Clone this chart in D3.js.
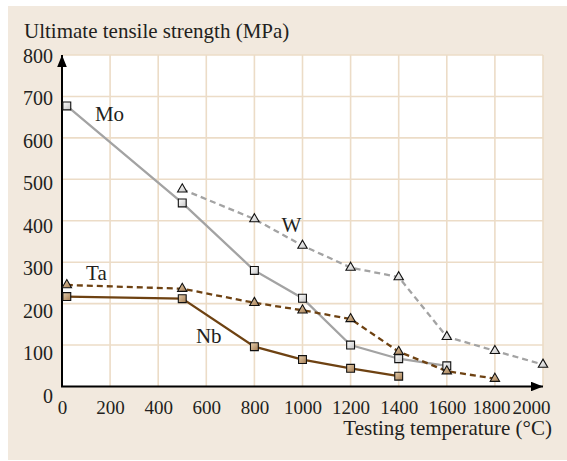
<!DOCTYPE html>
<html>
<head>
<meta charset="utf-8">
<script src="https://cdn.jsdelivr.net/npm/d3@7"></script>
<style>
  body { margin: 0; background: #fff; }
  text { font-family: "Liberation Serif", "Times New Roman", serif; fill: #231f20; }
</style>
</head>
<body>
<div id="chart"></div>
<script>
// values
const xTicks = [0, 200, 400, 600, 800, 1000, 1200, 1400, 1600, 1800, 2000];
const yTicks = [0, 100, 200, 300, 400, 500, 600, 700, 800];

const moTemp = [20, 500, 800, 1000, 1200, 1400, 1600];
const moUts = [677, 443, 280, 213, 100, 67, 50];
const wTemp = [500, 800, 1000, 1200, 1400, 1600, 1800, 2000];
const wUts = [476, 404, 340, 287, 264, 120, 86, 53];
const taTemp = [20, 500, 800, 1000, 1200, 1400, 1600, 1800];
const taUts = [245, 236, 202, 184, 163, 84, 37, 19];
const nbTemp = [20, 500, 800, 1000, 1200, 1400];
const nbUts = [217, 212, 96, 65, 44, 25];

const labelNames = ["Mo", "W", "Ta", "Nb"];
const labelTemp = [137, 913, 100, 557];
const labelUts = [640, 374, 258, 106];

const width = 567, height = 461;

let svg = d3.select("#chart").append("svg")
  .attr("width", width)
  .attr("height", height);

let defs = svg.append("defs");
let gGray = defs.append("linearGradient").attr("id", "gGray")
  .attr("x1", 0).attr("y1", 0).attr("x2", 1).attr("y2", 1);
gGray.append("stop").attr("offset", "0%").attr("stop-color", "#ffffff");
gGray.append("stop").attr("offset", "100%").attr("stop-color", "#c4c4c4");
let gTan = defs.append("linearGradient").attr("id", "gTan")
  .attr("x1", 0).attr("y1", 0).attr("x2", 1).attr("y2", 1);
gTan.append("stop").attr("offset", "0%").attr("stop-color", "#e6cfae");
gTan.append("stop").attr("offset", "100%").attr("stop-color", "#a47c52");

defs.append("marker").attr("id", "arrow")
  .attr("viewBox", "0 0 10 8").attr("refX", 10).attr("refY", 4)
  .attr("markerWidth", 12).attr("markerHeight", 9.6)
  .attr("markerUnits", "userSpaceOnUse")
  .attr("orient", "auto")
  .append("path").attr("d", "M0,0L10,4L0,8Z").attr("fill", "#000");

// panel
svg.append("rect").attr("x", 8).attr("y", 6).attr("width", 559).attr("height", 454)
  .attr("fill", "#f2e9de");

let x = d3.scaleLinear().domain([0, 2000]).range([62, 543]);
let y = d3.scaleLinear().domain([0, 800]).range([386.5, 55]);
// tick labels in the reference sit slightly lower than their grid lines
let yLab = d3.scaleLinear().domain([0, 800]).range([396, 56]);

svg.append("rect")
  .attr("x", x(0)).attr("y", y(800))
  .attr("width", x(2000) - x(0)).attr("height", y(0) - y(800))
  .attr("fill", "#fff");

// grid
let grid = svg.append("g").attr("stroke", "#ecdcc7").attr("stroke-width", 1.6);
grid.selectAll(".vx").data(xTicks.slice(1)).enter().append("line")
  .attr("x1", d => x(d)).attr("x2", d => x(d))
  .attr("y1", y(800)).attr("y2", y(0));
grid.selectAll(".hy").data(yTicks.slice(1)).enter().append("line")
  .attr("x1", x(0)).attr("x2", x(2000))
  .attr("y1", d => y(d)).attr("y2", d => y(d));

// axes (labels only, lines drawn with arrows below)
let xAxis = d3.axisBottom(x).tickValues(xTicks).tickSize(0).tickFormat(d3.format("d"));
let gx = svg.append("g").attr("transform", `translate(0, ${y(0)})`).call(xAxis);
gx.select(".domain").remove();
gx.selectAll("text")
  .attr("dy", null).attr("y", 27)
  .attr("dx", d => d === 2000 ? -12 : d === 1800 ? -4 : 0)
  .style("font-size", "19px").style("font-family", "'Liberation Serif', serif")
  .attr("fill", "#231f20");

let yAxis = d3.axisLeft(y).tickValues(yTicks).tickSize(0).tickPadding(9).tickFormat(d3.format("d"));
let gy = svg.append("g").attr("transform", `translate(${x(0)}, 0)`).call(yAxis);
gy.select(".domain").remove();
gy.selectAll("text")
  .attr("y", d => yLab(d) - y(d))
  .style("font-size", "20px").style("font-family", "'Liberation Serif', serif")
  .attr("fill", "#231f20");

svg.append("line")
  .attr("x1", x(0)).attr("y1", y(0)).attr("x2", x(0)).attr("y2", y(800))
  .attr("stroke", "#000").attr("stroke-width", 2)
  .attr("marker-end", "url(#arrow)");
svg.append("line")
  .attr("x1", x(0) - 1).attr("y1", y(0)).attr("x2", x(2000)).attr("y2", y(0))
  .attr("stroke", "#000").attr("stroke-width", 2)
  .attr("marker-end", "url(#arrow)");

// series
let series = [
  { t: moTemp, v: moUts, color: "#a3a3a3", dash: null, sym: d3.symbolSquare, fill: "url(#gGray)" },
  { t: wTemp, v: wUts, color: "#a3a3a3", dash: "6,4", sym: d3.symbolTriangle, fill: "url(#gGray)" },
  { t: taTemp, v: taUts, color: "#6e4212", dash: "6,4", sym: d3.symbolTriangle, fill: "url(#gTan)" },
  { t: nbTemp, v: nbUts, color: "#6e4212", dash: null, sym: d3.symbolSquare, fill: "url(#gTan)" }
];

let line = d3.line().x(d => x(d[0])).y(d => y(d[1]));

series.forEach(s => {
  let pts = s.t.map((t, i) => [t, s.v[i]]);
  svg.append("path")
    .attr("d", line(pts))
    .attr("fill", "none")
    .attr("stroke", s.color)
    .attr("stroke-width", 2.3)
    .attr("stroke-dasharray", s.dash);
});

series.forEach(s => {
  let pts = s.t.map((t, i) => [t, s.v[i]]);
  let size = s.sym === d3.symbolSquare ? 62 : 38;
  svg.selectAll(null).data(pts).enter().append("path")
    .attr("d", d3.symbol().type(s.sym).size(size))
    .attr("transform", d => `translate(${x(d[0])}, ${y(d[1])})`)
    .attr("fill", s.fill)
    .attr("stroke", "#111")
    .attr("stroke-width", 1.1);
});

// series names
svg.selectAll(".lab").data(labelNames).enter().append("text")
  .attr("x", (d, i) => x(labelTemp[i]))
  .attr("y", (d, i) => y(labelUts[i]))
  .style("font-size", "21px")
  .text(d => d);

// axis titles
svg.append("text").attr("x", 24).attr("y", 38)
  .style("font-size", "21px")
  .text("Ultimate tensile strength (MPa)");
svg.append("text").attr("x", 552).attr("y", 435)
  .attr("text-anchor", "end")
  .style("font-size", "21px")
  .text("Testing temperature (°C)");
</script>
</body>
</html>
